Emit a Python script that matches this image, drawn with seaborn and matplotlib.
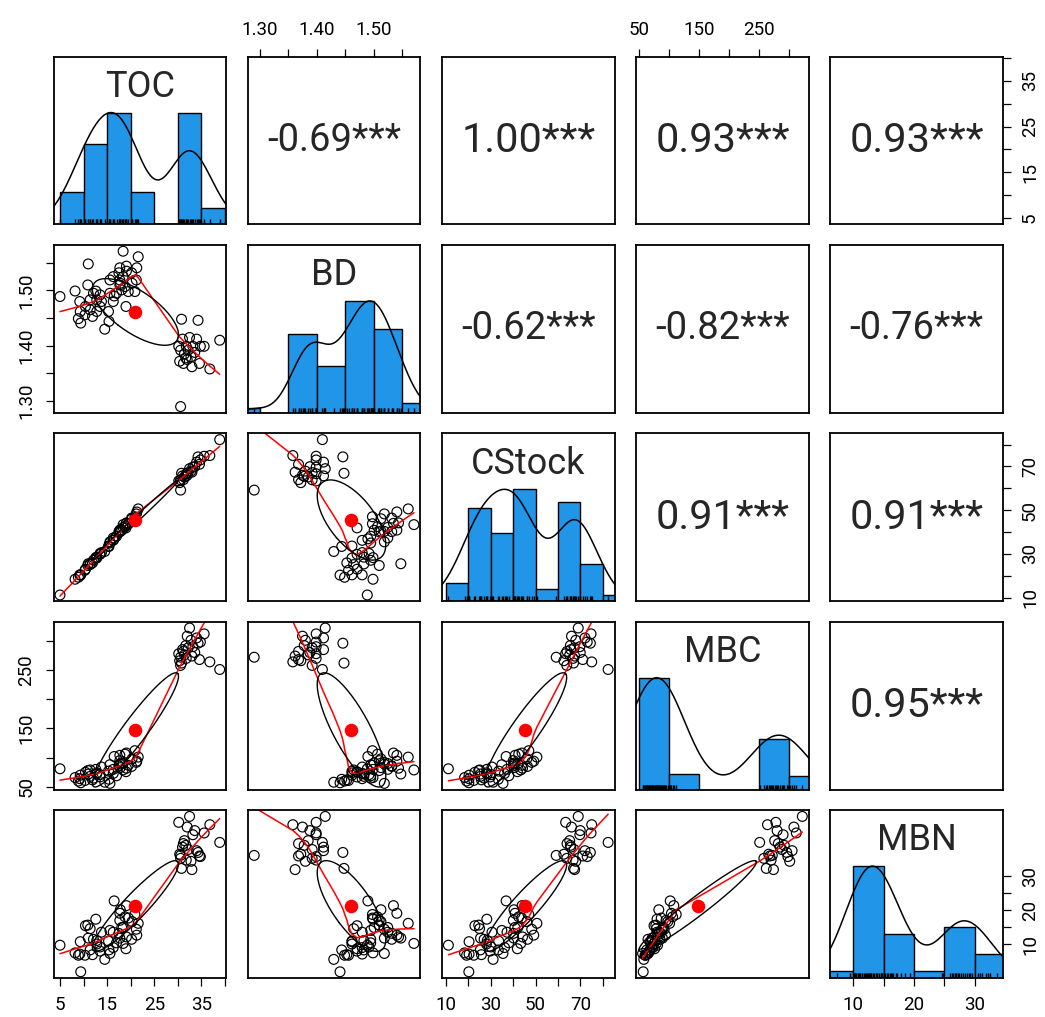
import numpy as np
import pandas as pd
import matplotlib
matplotlib.use("Agg")
import matplotlib.pyplot as plt
import seaborn as sns

# ---------------- data ----------------
toc = [5.0, 8.2, 11.0, 10.9, 9.2, 9.3, 8.9, 9.4, 10.4, 11.4, 11.9, 12.8, 12.6, 13.5, 13.8, 12.1,
       14.5, 15.3, 15.6, 15.6, 17.7, 16.3, 17.5, 17.7, 18.4, 19.1, 19.1, 20.3, 20.2, 20.9, 21.2, 19.5,
       18.4, 21.6, 21.3, 19.0, 17.8, 18.1, 17.0, 18.8, 16.3, 17.7, 13.5, 15.4, 11.4, 10.3, 12.8, 16.5,
       30.8, 34.3, 30.6, 36.8, 38.9, 30.2, 31.0, 31.8, 32.5, 33.2, 34.0, 34.8, 35.6, 30.6, 31.4, 32.2,
       32.8, 33.6, 30.4, 31.2, 32.0, 33.0, 31.7, 34.6]
bd = [1.489, 1.499, 1.548, 1.510, 1.480, 1.462, 1.449, 1.441, 1.471, 1.483, 1.453, 1.462, 1.499, 1.492,
      1.480, 1.495, 1.430, 1.462, 1.495, 1.519, 1.510, 1.480, 1.532, 1.541, 1.525, 1.535, 1.544, 1.513,
      1.532, 1.498, 1.519, 1.498, 1.571, 1.561, 1.541, 1.471, 1.513, 1.501, 1.495, 1.507, 1.525, 1.519,
      1.471, 1.444, 1.465, 1.456, 1.483, 1.490,
      1.448, 1.446, 1.290, 1.358, 1.410, 1.399, 1.412, 1.399, 1.415, 1.399, 1.412, 1.399, 1.399, 1.392,
      1.385, 1.392, 1.380, 1.388, 1.372, 1.368, 1.375, 1.362, 1.378, 1.368]
cstock = [11.2, 18.4, 25.5, 24.7, 20.4, 20.4, 19.3, 20.3, 23.0, 25.4, 25.9, 28.1, 28.3, 30.2, 30.6, 27.1,
          31.1, 33.6, 35.0, 35.5, 40.1, 36.2, 40.2, 40.9, 42.1, 44.0, 44.2, 46.1, 46.4, 47.0, 48.3, 43.8,
          43.4, 50.6, 49.2, 41.9, 40.4, 40.8, 38.1, 42.5, 37.3, 40.3, 29.8, 33.4, 25.1, 22.5, 28.5, 36.9,
          66.9, 74.4, 59.2, 75.0, 82.3, 63.4, 65.7, 66.7, 69.0, 69.7, 72.0, 73.0, 74.7, 63.9, 65.2, 67.2,
          67.9, 69.9, 62.6, 64.0, 66.0, 67.4, 65.5, 71.0]
mbc = [81, 66, 72, 78, 64, 70, 60, 57, 75, 68, 62, 74, 80, 71, 84, 65,
       58, 77, 88, 56, 95, 73, 86, 104, 90, 108, 82, 98, 85, 112, 92, 87,
       79, 101, 94, 76, 83, 91, 69, 106, 80, 89, 67, 63, 79, 61, 72, 102,
       262, 296, 272, 264, 251, 278, 285, 270, 322, 290, 305, 298, 312, 258, 276, 288,
       301, 280, 266, 282, 308, 274, 292, 268]
mbn = [11.8, 10.5, 13.0, 15.2, 10.3, 12.4, 10.1, 7.3, 15.1, 11.0, 10.2, 12.0, 16.2, 11.5, 14.0, 12.8,
       9.4, 12.5, 14.3, 10.4, 16.0, 11.4, 13.8, 17.2, 14.8, 18.5, 13.2, 15.8, 12.8, 17.0, 14.5, 16.4,
       12.1, 15.5, 13.5, 11.2, 17.8, 14.8, 12.2, 16.6, 14.0, 13.0, 10.8, 11.0, 14.6, 10.1, 12.6, 19.3,
       24.8, 27.5, 27.0, 32.2, 29.2, 32.6, 28.4, 26.2, 33.6, 30.5, 27.8, 26.8, 30.8, 26.5, 29.5, 28.0,
       26.0, 31.2, 27.2, 29.0, 31.8, 24.6, 28.7, 26.9]

var_names = ["TOC", "BD", "CStock", "MBC", "MBN"]
# upper-triangle correlation labels, row by row
corr_text = ["-0.69***", "1.00***", "0.93***", "0.93***",
             "-0.62***", "-0.82***", "-0.76***",
             "0.91***", "0.91***",
             "0.95***"]

hist_breaks = {
    "TOC": [5, 10, 15, 20, 25, 30, 35, 40],
    "BD": [1.25, 1.30, 1.35, 1.40, 1.45, 1.50, 1.55, 1.60],
    "CStock": [10, 20, 30, 40, 50, 60, 70, 80, 90],
    "MBC": [50, 100, 150, 200, 250, 300, 350],
    "MBN": [5, 10, 15, 20, 25, 30, 35],
}
axis_ticks = {
    "TOC": [5, 10, 15, 20, 25, 30, 35, 40],
    "BD": [1.30, 1.35, 1.40, 1.45, 1.50, 1.55],
    "CStock": [10, 20, 30, 40, 50, 60, 70, 80],
    "MBC": [50, 100, 150, 200, 250, 300],
    "MBN": [10, 15, 20, 25, 30],
}
tick_labels = {
    "TOC": ["5", "", "15", "", "25", "", "35", ""],
    "BD": ["1.30", "", "1.40", "", "1.50", ""],
    "CStock": ["10", "", "30", "", "50", "", "70", ""],
    "MBC": ["50", "", "150", "", "250", ""],
    "MBN": ["10", "", "20", "", "30"],
}

df = pd.DataFrame({"TOC": toc, "BD": bd, "CStock": cstock, "MBC": mbc, "MBN": mbn})

# ---------------- style ----------------
sns.set_style("white")
plt.rcParams["font.family"] = ["Roboto", "DejaVu Sans"]
HIST_COL = "#2196E8"

W, H = 1045, 1017
col_left = [53.6, 247.8, 442.0, 636.2, 830.4]
row_top = [56.6, 245.0, 433.4, 621.8, 810.2]
PW, PH = 172.5, 167.8


def r_lowess(x, y, f=2 / 3, nsteps=3):
    x = np.asarray(x, float)
    y = np.asarray(y, float)
    o = np.argsort(x, kind="mergesort")
    x, y = x[o], y[o]
    n = len(x)
    ns = max(2, min(n, int(f * n + 1e-7)))
    ys = np.zeros(n)
    rw = np.ones(n)
    rng = x[-1] - x[0]
    for it in range(nsteps + 1):
        nleft, nright = 0, ns - 1
        for i in range(n):
            xs = x[i]
            while nright < n - 1 and xs - x[nleft] > x[nright + 1] - xs:
                nleft += 1
                nright += 1
            h = max(xs - x[nleft], x[nright] - xs)
            h9, h1 = 0.999 * h, 0.001 * h
            w = np.zeros(n)
            a = 0.0
            j = nleft
            while j < n:
                r = abs(x[j] - xs)
                if r <= h9:
                    w[j] = 1.0 if r <= h1 else (1 - (r / h) ** 3) ** 3
                    if it > 0:
                        w[j] *= rw[j]
                    a += w[j]
                elif x[j] > xs:
                    break
                j += 1
            nrt = j - 1
            if a <= 0:
                ys[i] = y[i]
                continue
            ww = w[nleft:nrt + 1] / a
            xx = x[nleft:nrt + 1]
            yy = y[nleft:nrt + 1]
            if h > 0:
                aa = np.sum(ww * xx)
                b = xs - aa
                c = np.sum(ww * (xx - aa) ** 2)
                if np.sqrt(c) > 0.001 * rng:
                    b /= c
                    ww = ww * (b * (xx - aa) + 1)
            ys[i] = np.sum(ww * yy)
        if it == nsteps:
            break
        res = y - ys
        cmad = 6 * np.median(np.abs(res))
        if cmad < 1e-7 * np.mean(np.abs(y)):
            break
        rr = np.abs(res) / cmad
        rw = np.where(rr <= 0.001, 1.0, np.where(rr > 0.999, 0.0, (1 - rr ** 2) ** 2))
    return x, ys


def r_density(x):
    x = np.asarray(x, float)
    n = len(x)
    sd = x.std(ddof=1)
    q75, q25 = np.percentile(x, [75, 25])
    bw = 1.06 * min(sd, (q75 - q25) / 1.34) * n ** (-0.2)
    grid = np.linspace(x.min() - 3 * bw, x.max() + 3 * bw, 512)
    d = np.exp(-0.5 * ((grid[:, None] - x[None, :]) / bw) ** 2).sum(axis=1)
    return grid, d / d.max()


lims = {}
for v in var_names:
    lo, hi = df[v].min(), df[v].max()
    pad = 0.04 * (hi - lo)
    lims[v] = (lo - pad, hi + pad)

fig = plt.figure(figsize=(W / 100, H / 100), dpi=100)
fig.patch.set_facecolor("white")
axes = {}
for i in range(5):
    for j in range(5):
        ax = fig.add_axes([col_left[j] / W, 1 - (row_top[i] + PH) / H, PW / W, PH / H])
        axes[(i, j)] = ax
        for s in ax.spines.values():
            s.set_linewidth(1.3)
            s.set_color("black")
            s.set_visible(True)
        ax.set_facecolor("white")

fig.canvas.draw()
renderer = fig.canvas.get_renderer()

k = 0
for i in range(5):
    for j in range(5):
        ax = axes[(i, j)]
        vx, vy = var_names[j], var_names[i]
        if i == j:
            counts, _ = np.histogram(df[vx], bins=hist_breaks[vx])
            maxc = counts.max()
            sns.histplot(x=df[vx], bins=hist_breaks[vx], ax=ax, stat="count",
                         color=HIST_COL, edgecolor="black", linewidth=1.0, alpha=1.0)
            gx, gd = r_density(df[vx])
            ax.plot(gx, gd * maxc, color="black", lw=1.1)
            sns.rugplot(x=df[vx], ax=ax, height=0.03, color="black", lw=0.7)
            ax.set_xlim(lims[vx])
            ax.set_ylim(0, 1.5 * maxc)
            ax.text(0.5, 0.82, vx, transform=ax.transAxes, ha="center", va="center",
                    fontsize=26)
        elif i > j:
            sns.scatterplot(x=df[vx], y=df[vy], ax=ax, marker="o", s=50,
                            facecolors="none", edgecolor="black", linewidth=0.85)
            lx, ly = r_lowess(df[vx], df[vy])
            ax.plot(lx, ly, color="red", lw=1.1)
            xm, ym = df[vx].mean(), df[vy].mean()
            xsd, ysd = df[vx].std(), df[vy].std()
            r = np.corrcoef(df[vx], df[vy])[0, 1]
            ang = np.linspace(0, 2 * np.pi, 52)
            th = np.sign(r) / np.sqrt(2)
            s1, s2 = np.sqrt(1 + r), np.sqrt(1 - r)
            ex = th * (np.cos(ang) * s1 - np.sin(ang) * s2) * xsd + xm
            ey = th * (np.cos(ang) * s1 + np.sin(ang) * s2) * ysd + ym
            ax.plot(ex, ey, color="black", lw=1.0)
            ax.scatter([xm], [ym], s=95, color="red", zorder=6, linewidths=0)
            ax.set_xlim(lims[vx])
            ax.set_ylim(lims[vy])
        else:
            ax.set_xlim(0, 1)
            ax.set_ylim(0, 1)
            txt = corr_text[k]
            k += 1
            t = ax.text(0.5, 0.5, txt, transform=ax.transAxes, ha="center", va="center",
                        fontsize=20)
            ref = ax.text(0.5, 0.5, "0.12***", transform=ax.transAxes, fontsize=20)
            w1 = t.get_window_extent(renderer).width
            w0 = ref.get_window_extent(renderer).width
            ref.remove()
            target = 0.78 * PW * 1.0 / max(w0, w1)
            t.set_fontsize(20 * target)
            ax.set_xlim(lims[vx])
            ax.set_ylim(lims[vy])
        ax.set_xlabel("")
        ax.set_ylabel("")
        ax.set_xticks([])
        ax.set_yticks([])

# outer axes (alternating like R pairs)
tick_kw = dict(direction="out", length=6, width=0.9, labelsize=13.5, colors="black", pad=7)
for j in range(5):
    v = var_names[j]
    if j % 2 == 0:
        ax = axes[(4, j)]
        ax.set_xticks(axis_ticks[v])
        ax.set_xticklabels(tick_labels[v])
        ax.tick_params(axis="x", bottom=True, top=False, labelbottom=True, **tick_kw)
    else:
        ax = axes[(0, j)]
        ax.set_xticks(axis_ticks[v])
        ax.set_xticklabels(tick_labels[v])
        ax.tick_params(axis="x", bottom=False, top=True, labelbottom=False, labeltop=True, **tick_kw)
for i in range(5):
    v = var_names[i]
    if i % 2 == 0:
        ax = axes[(i, 4)]
        ax.set_yticks(axis_ticks[v])
        ax.set_yticklabels(tick_labels[v], rotation=90, va="center")
        ax.tick_params(axis="y", left=False, right=True, labelleft=False, labelright=True, **tick_kw)
    else:
        ax = axes[(i, 0)]
        ax.set_yticks(axis_ticks[v])
        ax.set_yticklabels(tick_labels[v], rotation=90, va="center")
        ax.tick_params(axis="y", left=True, right=False, labelleft=True, **tick_kw)

fig.savefig("out.png", dpi=100, facecolor="white")
